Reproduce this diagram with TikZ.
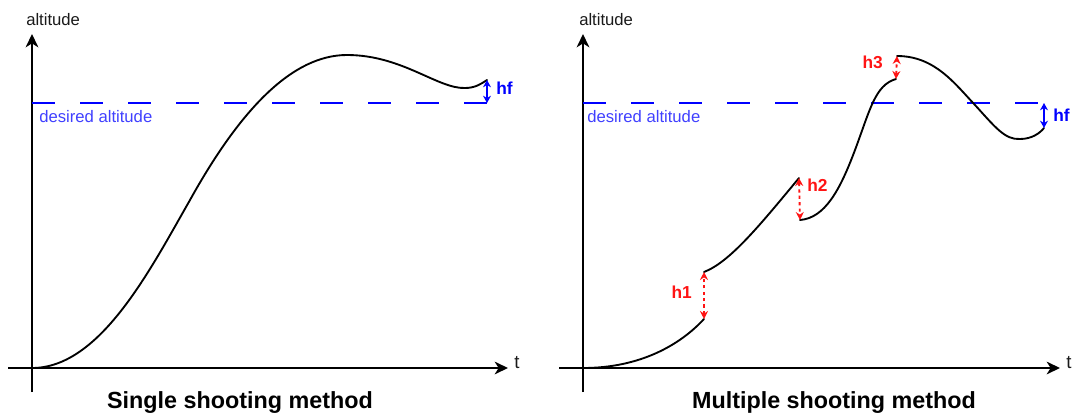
\documentclass[tikz,border=0pt]{standalone}
\usepackage{fontspec}
\setmainfont{Liberation Sans}
\usepackage{tikz}
\usetikzlibrary{arrows.meta,positioning}
\definecolor{goalc}{HTML}{0000FF}
\definecolor{goaltxt}{HTML}{4040FF}
\definecolor{gapc}{HTML}{FF1414}
\definecolor{inkc}{HTML}{1A1A1A}
\tikzset{
  axis/.style={-{Stealth[length=10pt, width=9.5pt, inset=3pt]}, line width=1.5pt},
  traj/.style={line width=1.4pt, line cap=round},
  goal/.style={goalc, line width=1.8pt, dash pattern=on 17.6pt off 18.4pt},
  gap/.style={{Stealth[length=6pt, width=6pt]}-{Stealth[length=6pt, width=6pt]},
              gapc, line width=1.4pt, dash pattern=on 2.4pt off 2.4pt},
  miss/.style={{Stealth[length=5.5pt, width=6pt]}-{Stealth[length=5.5pt, width=6pt]},
               goalc, line width=1.3pt},
  lbl/.style={font=\fontsize{12.5}{14}\selectfont, text=inkc, inner sep=0pt},
  gaplbl/.style={font=\fontsize{13}{15}\selectfont\bfseries, text=gapc, inner sep=0pt},
  ttl/.style={font=\fontsize{17.5}{20}\selectfont\bfseries, inner sep=0pt},
}
\begin{document}
\begin{tikzpicture}[x=0.75pt, y=-0.75pt]
\useasboundingbox (0,0) rectangle (1074,414);
% single shooting
\coordinate (sO) at (32,368);
\coordinate (sGoal) at (487,103);
\coordinate (sEnd) at (487,80);
\draw[axis] (8,368) -- (508,368);
\draw[axis] (32,392) -- (32,34);
\node[lbl, anchor=base west] (sAlt) at (26,26) {altitude};
\node[lbl, font=\fontsize{14}{16}\selectfont, anchor=base west] (sT) at (514,368) {t};
\draw[goal] (32,103) -- (sGoal);
\node[lbl, text=goaltxt, anchor=base west] (sDes) at (39,122) {desired altitude};
\draw[traj] (sO) .. controls (100,368) and (150,270) .. (190,200)
  .. controls (240,110) and (292,55) .. (347,55)
  .. controls (402,55) and (438,89) .. (465,88)
  .. controls (475,88) and (481,84) .. (sEnd);
\draw[miss] (sEnd) -- (sGoal);
\node[gaplbl, text=goalc, anchor=west] (sHf) at (496,88) {hf};
\node[ttl, anchor=base] (sTitle) at (240,408) {Single shooting method};
% multiple shooting
\coordinate (mO) at (583,368);
\coordinate (m1e) at (704,319);
\coordinate (m2s) at (704,272);
\coordinate (m2e) at (799,178);
\coordinate (m3s) at (800,220);
\coordinate (m3e) at (896,79);
\coordinate (m4s) at (897,56);
\coordinate (m4e) at (1044,128);
\coordinate (mGoal) at (1044,103);
\draw[axis] (559,368) -- (1060,368);
\draw[axis] (583,392) -- (583,34);
\node[lbl, anchor=base west] (mAlt) at (579,26) {altitude};
\node[lbl, font=\fontsize{14}{16}\selectfont, anchor=base west] (mT) at (1066,368) {t};
\draw[goal] (583,103) -- (mGoal);
\node[lbl, text=goaltxt, anchor=base west] (mDes) at (587,122) {desired altitude};
\draw[traj] (mO) .. controls (640,368) and (680,345) .. (m1e);
\draw[traj] (m2s) .. controls (730,262) and (760,225) .. (m2e);
\draw[traj] (m3s) .. controls (825,218) and (840,190) .. (855,150)
  .. controls (870,110) and (875,85) .. (m3e);
\draw[traj] (m4s) .. controls (935,56) and (955,84) .. (975,105)
  .. controls (995,127) and (1005,140) .. (1020,139)
  .. controls (1032,139) and (1040,133) .. (m4e);
\draw[gap] (m1e) -- (m2s);
\draw[gap] (m2e) -- (m3s);
\draw[gap] (m3e) -- (m4s);
\node[gaplbl, anchor=east] (mH1) at (692,292) {h1};
\node[gaplbl, anchor=west] (mH2) at (807,185) {h2};
\node[gaplbl, anchor=east] (mH3) at (883,62) {h3};
\draw[miss] (m4e) -- (mGoal);
\node[gaplbl, text=goalc, anchor=west] (mHf) at (1053,115) {hf};
\node[ttl, anchor=base] (mTitle) at (834,408) {Multiple shooting method};
\end{tikzpicture}
\end{document}
